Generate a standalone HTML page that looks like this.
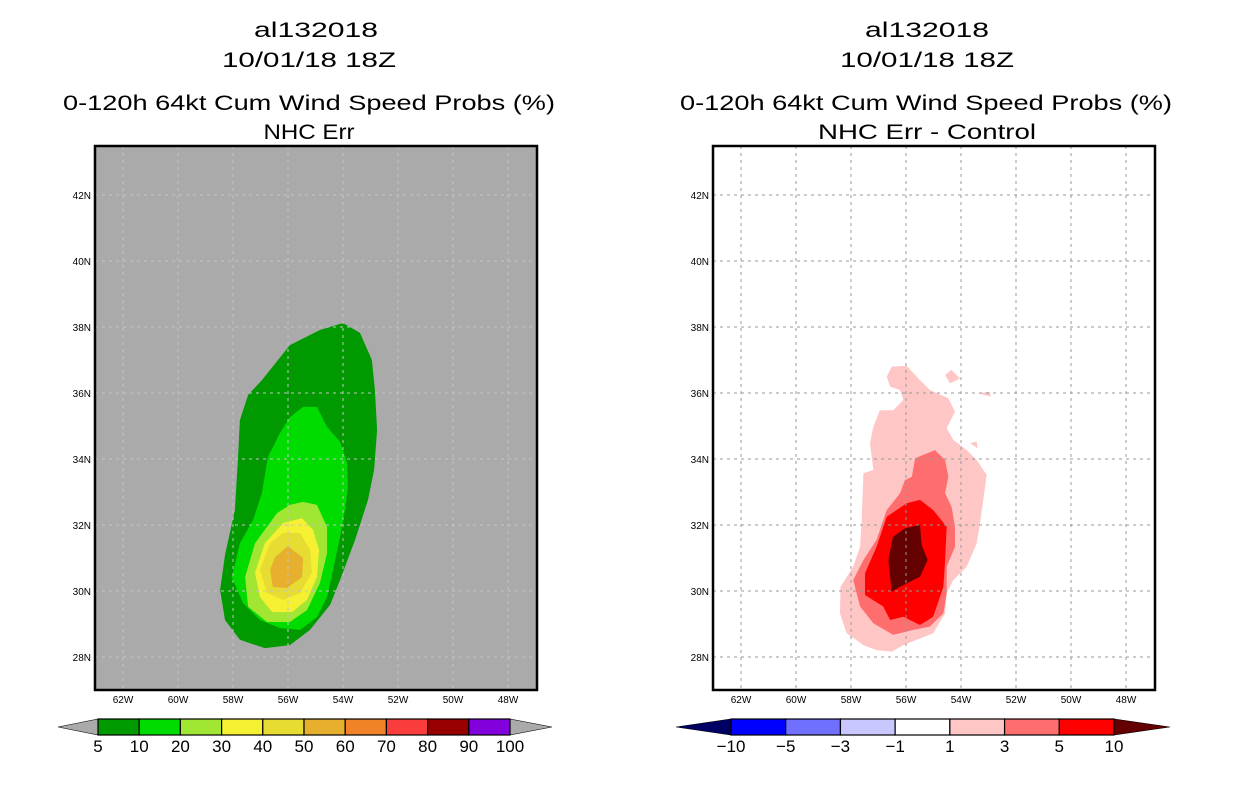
<!DOCTYPE html>
<html><head><meta charset="utf-8">
<style>
html,body{margin:0;padding:0;background:#fff;}
svg{display:block;font-family:"Liberation Sans",sans-serif;}
.t{font-size:21px;text-anchor:middle;fill:#000;}
.tk{font-size:10px;fill:#000;}
.cb{font-size:17px;text-anchor:middle;fill:#000;}
</style></head>
<body>
<svg id="s" width="1236" height="800" viewBox="0 0 1236 800">
<g>
<text class="t" x="316" y="37" textLength="124" lengthAdjust="spacingAndGlyphs">al132018</text>
<text class="t" x="309" y="67" textLength="174" lengthAdjust="spacingAndGlyphs">10/01/18 18Z</text>
<text class="t" x="309" y="110" textLength="492" lengthAdjust="spacingAndGlyphs">0-120h 64kt Cum Wind Speed Probs (%)</text>
<text class="t" x="309" y="139" textLength="91" lengthAdjust="spacingAndGlyphs">NHC Err</text>
</g>
<g>
<text class="t" x="927" y="37" textLength="124" lengthAdjust="spacingAndGlyphs">al132018</text>
<text class="t" x="927" y="67" textLength="174" lengthAdjust="spacingAndGlyphs">10/01/18 18Z</text>
<text class="t" x="926" y="110" textLength="492" lengthAdjust="spacingAndGlyphs">0-120h 64kt Cum Wind Speed Probs (%)</text>
<text class="t" x="927" y="139" textLength="218" lengthAdjust="spacingAndGlyphs">NHC Err - Control</text>
</g>
</svg>
<script>
// ---- data ----
const lonTicks=[-62,-60,-58,-56,-54,-52,-50,-48];
const latTicks=[28,30,32,34,36,38,40,42];
const leftLevels=[5,10,20,30,40,50,60,70,80,90,100];
const leftColors=["#009900","#00dc00","#a0e632","#f5f032","#e6dc32","#e6af2d","#f08228","#fa3c3c","#960000","#8200dc"];
const rightLevels=[-10,-5,-3,-1,1,3,5,10];
const rightColors=["#0000ff","#7070ff","#c8c8ff","#ffffff","#ffc6c6","#ff6e6e","#ff0000"];
const left5=[[-54.0,38.12],[-53.38,37.82],[-52.95,37.0],[-52.84,36.09],[-52.76,34.88],[-52.87,33.67],[-53.09,32.76],[-53.56,31.55],[-54.11,30.33],[-54.47,29.58],[-55.2,28.82],[-55.93,28.36],[-56.84,28.27],[-57.75,28.52],[-58.29,29.12],[-58.47,30.03],[-58.29,31.09],[-57.93,32.45],[-57.82,33.97],[-57.75,35.18],[-57.45,35.94],[-56.95,36.39],[-55.93,37.45],[-54.84,37.91]];
const left10=[[-55.45,35.58],[-54.95,35.58],[-54.58,34.97],[-54.11,34.52],[-53.85,33.88],[-53.82,33.15],[-53.93,32.45],[-54.11,31.64],[-54.36,30.64],[-54.58,29.82],[-54.95,29.21],[-55.56,28.82],[-56.29,28.88],[-57.02,29.12],[-57.64,29.64],[-58.04,30.42],[-57.75,31.45],[-57.27,32.15],[-56.95,32.97],[-56.73,34.06],[-56.29,34.79],[-55.93,35.27]];
const left20=[[-55.45,32.7],[-54.95,32.61],[-54.58,31.94],[-54.58,31.15],[-54.84,30.24],[-55.31,29.42],[-55.93,29.06],[-56.76,29.06],[-57.45,29.52],[-57.56,30.42],[-57.2,31.45],[-56.4,32.36],[-55.93,32.61]];
const left30=[[-55.49,32.21],[-55.09,31.85],[-54.87,31.24],[-54.95,30.42],[-55.31,29.73],[-55.85,29.36],[-56.58,29.36],[-57.02,29.82],[-57.2,30.55],[-56.84,31.45],[-56.18,32.06]];
const left40=[[-55.56,31.76],[-55.2,31.24],[-55.13,30.55],[-55.56,29.94],[-56.18,29.73],[-56.76,29.94],[-57.02,30.64],[-56.65,31.45],[-56.18,31.76]];
const left50=[[-56.0,31.36],[-55.45,31.0],[-55.49,30.42],[-56.04,30.09],[-56.55,30.12],[-56.65,30.64],[-56.47,31.03]];
const right1=[[-56.52,36.8],[-55.98,36.82],[-55.49,36.39],[-55.13,36.09],[-54.46,35.84],[-54.22,35.43],[-54.52,34.93],[-54.28,34.58],[-53.79,34.27],[-53.43,33.97],[-53.07,33.52],[-53.19,32.76],[-53.31,32.05],[-53.43,31.45],[-53.79,30.74],[-54.28,30.33],[-54.52,29.93],[-54.58,29.32],[-55.01,28.72],[-55.61,28.52],[-56.1,28.36],[-56.52,28.16],[-57.07,28.21],[-57.55,28.36],[-58.16,28.72],[-58.4,29.32],[-58.38,30.13],[-57.92,30.74],[-57.67,31.34],[-57.61,32.15],[-57.55,33.57],[-57.19,33.67],[-57.31,34.48],[-57.19,34.98],[-56.95,35.48],[-56.46,35.48],[-56.1,35.79],[-56.22,36.09],[-56.58,36.19],[-56.7,36.49]];
const right1b=[[-54.58,36.55],[-54.34,36.7],[-54.04,36.44],[-54.4,36.29]];
const right1c=[[-53.37,35.99],[-52.95,36.04],[-52.92,35.89]];
const right1d=[[-53.67,34.48],[-53.43,34.53],[-53.4,34.32]];
const right3=[[-54.95,34.27],[-54.58,33.97],[-54.46,33.46],[-54.58,32.96],[-54.34,32.55],[-54.22,31.95],[-54.22,31.34],[-54.52,30.74],[-54.52,29.93],[-54.64,29.32],[-55.13,28.92],[-55.73,28.82],[-56.46,28.67],[-57.19,29.02],[-57.67,29.53],[-57.92,30.33],[-57.55,30.94],[-57.07,31.55],[-56.7,32.45],[-56.22,32.96],[-56.04,33.36],[-55.79,33.46],[-55.67,34.02]];
const right5=[[-55.49,32.76],[-55.01,32.45],[-54.52,31.95],[-54.58,30.94],[-54.64,30.13],[-55.01,29.22],[-55.49,28.97],[-56.1,29.22],[-56.58,29.12],[-56.83,29.53],[-57.49,29.88],[-57.49,30.54],[-57.07,31.34],[-56.7,32.25],[-55.98,32.66]];
const right10=[[-55.49,32.0],[-55.43,31.39],[-55.21,30.94],[-55.49,30.43],[-56.22,30.13],[-56.52,29.98],[-56.64,30.94],[-56.48,31.64],[-56.04,31.9]];

// ---- drawing ----
const NS="http://www.w3.org/2000/svg";
const svg=document.getElementById('s');
function mk(tag,attrs,parent){const e=document.createElementNS(NS,tag);for(const k in attrs)e.setAttribute(k,attrs[k]);(parent||svg).appendChild(e);return e;}
function panel(x0,name){
  const xs=lon=>x0+(lon+62)*27.5;
  const ys=lat=>195+(42-lat)*33;
  const g=mk('g',{});
  
  
  return {g,xs,ys,x0};
}
function poly(P,pts,fill,name){
  const p=mk('polygon',{points:pts.map(d=>P.xs(d[0]).toFixed(1)+','+P.ys(d[1]).toFixed(1)).join(' '),fill:fill},P.g);
  
  
}
function frame(P,bg,gridColor){
  const L=P.x0-28,T=146,W=442,H=544;
  const r=mk('rect',{x:L,y:T,width:W,height:H,fill:bg},P.g);
  
  
  return {L,T,W,H,gridColor};
}
function gridAxes(P,F){
  lonTicks.forEach(lon=>{
    const x=P.xs(lon);
    const l=mk('line',{x1:x,x2:x,y1:F.T,y2:F.T+F.H,stroke:F.gridColor,'stroke-width':1,'stroke-dasharray':'3,4'},P.g);
    
    
    const t=mk('text',{x:x,y:703,'text-anchor':'middle',class:'tk'},P.g);
    t.textContent=Math.abs(lon)+'W';
    
    
  });
  latTicks.forEach(lat=>{
    const y=P.ys(lat);
    const l=mk('line',{x1:F.L,x2:F.L+F.W,y1:y,y2:y,stroke:F.gridColor,'stroke-width':1,'stroke-dasharray':'3,4'},P.g);
    
    
    const t=mk('text',{x:F.L-4,y:y+4,'text-anchor':'end',class:'tk'},P.g);
    t.textContent=lat+'N';
    
    
  });
  const b=mk('rect',{x:F.L,y:F.T,width:F.W,height:F.H,fill:'none',stroke:'#000','stroke-width':2.5},P.g);
  
  
}
function colorbar(name,x1,x2,tipL,tipR,levels,colors,cl,cr){
  const g=mk('g',{});
  
  
  const y1=719,y2=735,ym=727,n=colors.length,w=(x2-x1)/n;
  const a=mk('polygon',{points:`${x1},${y1} ${x1},${y2} ${tipL},${ym}`,fill:cl,stroke:'#000','stroke-width':0.6},g);
  
  
  const c=mk('polygon',{points:`${x2},${y1} ${x2},${y2} ${tipR},${ym}`,fill:cr,stroke:'#000','stroke-width':0.6},g);
  
  
  colors.forEach((col,i)=>{
    const r=mk('rect',{x:x1+i*w,y:y1,width:w,height:y2-y1,fill:col,stroke:'#000','stroke-width':1.2},g);
    
    
  });
  levels.forEach((v,i)=>{
    const t=mk('text',{x:x1+i*w,y:752,class:'cb'},g);
    t.textContent=v<0?'\u2212'+Math.abs(v):String(v);
    
    
  });
}
// left panel
const PL=panel(123,'left-map-panel');
const FL=frame(PL,'#aaaaaa','#c4c4c4');
poly(PL,left5,leftColors[0],'contour-5');
poly(PL,left10,leftColors[1],'contour-10');
poly(PL,left20,leftColors[2],'contour-20');
poly(PL,left30,leftColors[3],'contour-30');
poly(PL,left40,leftColors[4],'contour-40');
poly(PL,left50,leftColors[5],'contour-50');
gridAxes(PL,FL);
// right panel
const PR=panel(741,'right-map-panel');
const FR=frame(PR,'#ffffff','#999999');
poly(PR,right1,rightColors[4],'contour-1');
poly(PR,right1b,rightColors[4],'contour-1-island');
poly(PR,right1c,rightColors[4],'contour-1-island');
poly(PR,right1d,rightColors[4],'contour-1-island');
poly(PR,right3,rightColors[5],'contour-3');
poly(PR,right5,rightColors[6],'contour-5');
poly(PR,right10,'#640000','contour-10');
gridAxes(PR,FR);
colorbar('left-colorbar',98,510,58,552,leftLevels,leftColors,'#aaaaaa','#aaaaaa');
colorbar('right-colorbar',731,1114,676,1170,rightLevels,rightColors,'#000064','#640000');
</script>
</body></html>
